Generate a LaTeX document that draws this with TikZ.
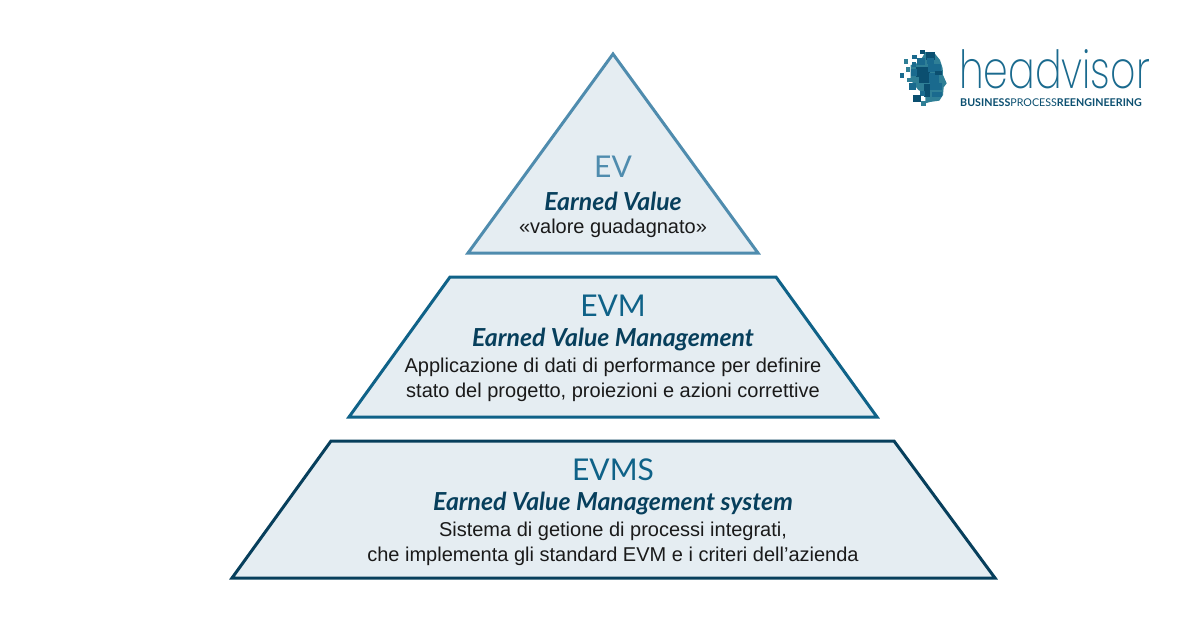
\documentclass[tikz,border=0pt]{standalone}
\usepackage{fontspec}
\usepackage{graphicx}
\setmainfont{Liberation Sans}
\newfontfamily\lato{Lato}
\newfontfamily\logofont[UprightFont={* ExtraLight}]{Poppins}
\definecolor{tierfill}{HTML}{E5EDF2}
\definecolor{evc}{HTML}{4F8CAE}
\definecolor{evmc}{HTML}{0F6288}
\definecolor{evmsc}{HTML}{073F5C}
\definecolor{bodyc}{HTML}{1A1A1A}
\definecolor{logoa}{HTML}{0B4F70}
\definecolor{logob}{HTML}{2F7F96}
\definecolor{logoc}{HTML}{1A6A8E}
\tikzset{
  tier/.style={fill=tierfill,line width=3pt,line join=miter,miter limit=10},
  abbr/.style={font=\lato\fontsize{30}{30}\selectfont,inner sep=0pt,anchor=center},
  title/.style={font=\lato\bfseries\itshape\fontsize{24.8}{25}\selectfont,text=evmsc,inner sep=0pt,anchor=center},
  desc/.style={font=\fontsize{20}{20}\selectfont,text=bodyc,inner sep=0pt,anchor=center}
}
\begin{document}
\begin{tikzpicture}[x=1pt,y=-1pt]
\useasboundingbox (0,0) rectangle (1201,627);
\fill[white] (0,0) rectangle (1201,627);
% tiers
\draw[tier,draw=evc] (613,54) -- (758,253) -- (468,253) -- cycle;
\draw[tier,draw=evmc] (450,277) -- (776,277) -- (877,417) -- (349,417) -- cycle;
\draw[tier,draw=evmsc] (331,441) -- (894,441) -- (995,578) -- (232,578) -- cycle;
% EV
\node[abbr,text=evc] (evabbr) at (613,167) {EV};
\node[title] (evtitle) at (613,201) {Earned Value};
\node[desc] (evdesc) at (613,228) {«valore guadagnato»};
% EVM
\node[abbr,text=evmc] (evmabbr) at (613,306) {EVM};
\node[title] (evmtitle) at (613,340) {Earned Value Management};
\node[desc] (evmdesc1) at (613,367) {Applicazione di dati di performance per definire};
\node[desc] (evmdesc2) at (613,392) {stato del progetto, proiezioni e azioni correttive};
% EVMS
\node[abbr,text=evmc] (evmsabbr) at (613,470) {EVMS};
\node[title] (evmstitle) at (613,504) {Earned Value Management system};
\node[desc] (evmsdesc1) at (613,531) {Sistema di getione di processi integrati,};
\node[desc] (evmsdesc2) at (613,556) {che implementa gli standard EVM e i criteri dell’azienda};
% logo
\node[text=logoc,inner sep=0pt,anchor=base west] (logoword) at (959,88) {\logofont\fontsize{50}{50}\selectfont\raisebox{0pt}[\height][0pt]{\scalebox{0.79}[1.05]{headvisor}}};
\node[font=\lato\bfseries\fontsize{10.7}{11}\selectfont,text=logoa,inner sep=0pt,anchor=base west] (logotag) at (960,106) {BUSINESS{\mdseries PROCESS}REENGINEERING};
\begin{scope}[shift={(880,30)},x=0.3333pt,y=-0.3333pt]
\fill[logob] (136,66) -- (162,68) -- (180,90) -- (188,115) -- (189,135) -- (200,160) -- (191,172) -- (189,195) -- (178,212) -- (150,216) -- (136,220) -- (136,190) -- (115,180) -- (92,150) -- (92,105) -- (118,98) -- cycle;
\fill[logoa] (137,66) rectangle (165,90);
\fill[logoc] (140,84) rectangle (162,102);
\fill[logoa] (108,110) rectangle (150,140);
\fill[logoc] (93,118) rectangle (112,137);
\fill[logoc] (145,103) rectangle (182,125);
\fill[logoa] (118,140) rectangle (147,160);
\fill[logoc] (147,130) rectangle (177,160);
\fill[logoa] (165,122) rectangle (186,136);
\fill[logoc] (150,160) rectangle (186,180);
\fill[logoa] (133,163) rectangle (150,200);
\fill[logoc] (155,186) rectangle (186,200);
\fill[logoc] (112,84) rectangle (134,106);
\fill[logoa] (121,59) rectangle (135,73);
\fill[logoc] (97,74) rectangle (111,88);
\fill[logob] (71,87) rectangle (85,101);
\fill[logoc] (95,96) rectangle (109,110);
\fill[logob] (77,111) rectangle (91,125);
\fill[logoc] (59,129) rectangle (73,143);
\fill[logob] (81,143) rectangle (95,157);
\fill[logoc] (87,159) rectangle (109,181);
\fill[logoc] (119,183) rectangle (134,198);
\fill[logoa] (99,194) rectangle (122,216);
\fill[logob] (123,214) rectangle (137,228);
\end{scope}
\end{tikzpicture}
\end{document}
